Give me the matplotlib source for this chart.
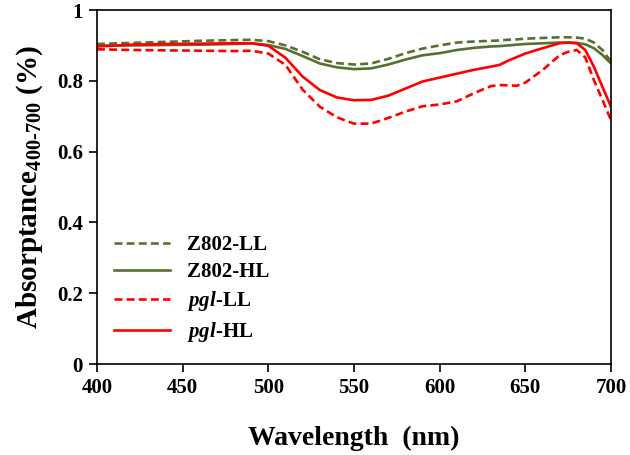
import matplotlib
matplotlib.use("Agg")
import matplotlib.pyplot as plt

plt.rcParams['font.family'] = ['Liberation Serif', 'DejaVu Serif']
plt.rcParams['font.weight'] = 'bold'
plt.rcParams['mathtext.fontset'] = 'custom'
plt.rcParams['mathtext.rm'] = 'Liberation Serif:bold'
plt.rcParams['mathtext.bf'] = 'Liberation Serif:bold'
plt.rcParams['mathtext.it'] = 'Liberation Serif:italic:bold'

wavelength = [400, 420, 440, 460, 480, 490, 500, 510, 520, 530, 540, 550, 560, 570,
              580, 590, 600, 610, 620, 630, 635, 640, 645, 650, 660, 670, 675, 680,
              685, 690, 695, 700]

z802_ll = [0.904, 0.907, 0.910, 0.913, 0.915, 0.916, 0.912, 0.900, 0.882, 0.861, 0.850,
           0.846, 0.849, 0.862, 0.878, 0.891, 0.900, 0.908, 0.911, 0.913, 0.914, 0.916,
           0.917, 0.919, 0.921, 0.923, 0.923, 0.922, 0.919, 0.908, 0.887, 0.854]
z802_hl = [0.899, 0.900, 0.901, 0.902, 0.904, 0.906, 0.901, 0.890, 0.870, 0.849, 0.838,
           0.833, 0.835, 0.846, 0.860, 0.872, 0.878, 0.887, 0.893, 0.897, 0.898, 0.900,
           0.902, 0.904, 0.906, 0.908, 0.908, 0.907, 0.903, 0.892, 0.873, 0.849]
pgl_ll = [0.889, 0.887, 0.886, 0.885, 0.884, 0.885, 0.877, 0.845, 0.775, 0.727, 0.697,
          0.679, 0.679, 0.695, 0.713, 0.728, 0.733, 0.742, 0.765, 0.785, 0.788, 0.787,
          0.786, 0.795, 0.830, 0.872, 0.882, 0.887, 0.866, 0.802, 0.746, 0.689]
pgl_hl = [0.897, 0.902, 0.904, 0.905, 0.906, 0.906, 0.899, 0.865, 0.812, 0.774, 0.753,
          0.745, 0.746, 0.758, 0.778, 0.798, 0.809, 0.820, 0.831, 0.840, 0.845, 0.857,
          0.867, 0.877, 0.892, 0.906, 0.908, 0.906, 0.887, 0.840, 0.783, 0.727]

labels = ['Z802-LL', 'Z802-HL', r'$\it{pgl}$-LL', r'$\it{pgl}$-HL']
x_ticks = [400, 450, 500, 550, 600, 650, 700]
y_ticks = [0, 0.2, 0.4, 0.6, 0.8, 1]
y_tick_labels = ['0', '0.2', '0.4', '0.6', '0.8', '1']

green = '#58702F'
red = '#FF0000'
dash = (0, (3, 1.6))

fig = plt.figure(figsize=(6.3, 4.55), dpi=100)
ax = fig.add_axes([97/630, 1 - 364/455, 514/630, 354/455])

lw = 1.9
ax.plot(wavelength, z802_ll, color=green, lw=lw, linestyle=dash, label=labels[0])
ax.plot(wavelength, z802_hl, color=green, lw=lw, label=labels[1])
ax.plot(wavelength, pgl_ll, color=red, lw=lw, linestyle=dash, label=labels[2])
ax.plot(wavelength, pgl_hl, color=red, lw=lw, label=labels[3])

ax.set_xlim(400, 700)
ax.set_ylim(0, 1)
ax.set_xticks(x_ticks)
ax.set_yticks(y_ticks)
ax.set_yticklabels(y_tick_labels)
ax.tick_params(direction='out', length=6, width=1.2, labelsize=15, pad=4)
for lab in ax.get_xticklabels() + ax.get_yticklabels():
    lab.set_fontweight('bold')
for s in ax.spines.values():
    s.set_linewidth(1.2)
    s.set_color('black')

ax.set_xlabel('Wavelength  (nm)', fontsize=20, fontweight='bold', labelpad=20)
ax.set_ylabel(r'Absorptance$_{\mathrm{400\text{-}700}}$ (%)', fontsize=21,
              fontweight='bold', labelpad=9)

leg = ax.legend(loc='lower left', bbox_to_anchor=(0.025, 0.045), frameon=False,
                fontsize=15, handlelength=2.7, handletextpad=0.8, labelspacing=0.33,
                borderpad=0.2, borderaxespad=0)
for t in leg.get_texts():
    t.set_fontweight('bold')

fig.savefig('out.png', dpi=100)
